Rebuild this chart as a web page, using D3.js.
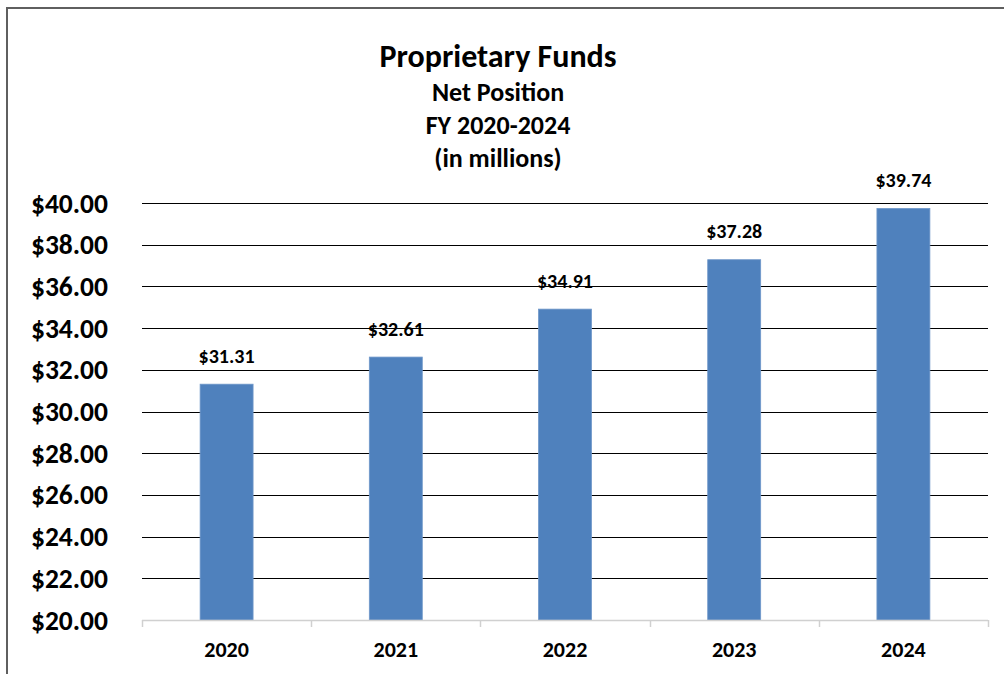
<!DOCTYPE html>
<html>
<head>
<meta charset="utf-8">
<script src="https://cdn.jsdelivr.net/npm/d3@7"></script>
<style>
  html, body { margin: 0; padding: 0; background: #fff; }
  svg { display: block; }
  text { font-family: Carlito, Lato, "Open Sans", sans-serif; font-weight: bold; fill: #000; }
</style>
</head>
<body>
<script>
const categories = ["2020", "2021", "2022", "2023", "2024"];
const values = [31.31, 32.61, 34.91, 37.28, 39.74];
const yTicks = [20, 22, 24, 26, 28, 30, 32, 34, 36, 38, 40];
const titleLines = ["Proprietary Funds", "Net Position", "FY 2020-2024", "(in millions)"];

const W = 1004, H = 674;
const plot = { left: 142, right: 988, top: 203, bottom: 620 };

const svg = d3.select("body").append("svg").attr("width", W).attr("height", H);

// outer frame
svg.append("rect").attr("x", 7).attr("y", 8).attr("width", W + 20).attr("height", H + 20)
  .attr("fill", "none").attr("stroke", "#5f5f5f").attr("stroke-width", 2);

const x = d3.scaleBand().domain(categories).range([plot.left, plot.right]).padding(0);
const y = d3.scaleLinear().domain([20, 40]).range([plot.bottom, plot.top]);

// gridlines
svg.append("g").selectAll("line").data(yTicks.filter(t => t > 20)).join("line")
  .attr("x1", plot.left).attr("x2", plot.right)
  .attr("y1", d => Math.round(y(d)) + 0.5).attr("y2", d => Math.round(y(d)) + 0.5)
  .attr("stroke", "#000").attr("stroke-width", 1);

// y axis labels
const yAxis = d3.axisLeft(y).tickValues(yTicks).tickSize(0).tickPadding(0)
  .tickFormat(d => "$" + d3.format(".2f")(d));
const gy = svg.append("g").attr("transform", `translate(${108},0)`).call(yAxis);
gy.select(".domain").remove();
gy.selectAll("text").style("font-size", "27.5px").attr("dy", "0.33em").attr("fill", "#000");

// bars
const barW = x.step() * 0.313;
svg.append("g").selectAll("rect").data(values).join("rect")
  .attr("x", (d, i) => x(categories[i]) + x.bandwidth() / 2 - barW / 2)
  .attr("width", barW)
  .attr("y", d => y(d))
  .attr("height", d => y(20) - y(d))
  .attr("fill", "#4F81BD")
  .attr("stroke", "#6f97c9").attr("stroke-width", 0.8);

// x axis
const xAxis = d3.axisBottom(x).tickSize(0).tickPadding(0);
const gx = svg.append("g").attr("transform", `translate(0,${plot.bottom})`).call(xAxis);
gx.select(".domain").remove();
gx.append("line").attr("x1", plot.left).attr("x2", plot.right).attr("y1", 0.5).attr("y2", 0.5)
  .attr("stroke", "#d0d0d0").attr("stroke-width", 1.5);
const boundaries = categories.map(c => x(c)).concat([plot.right]);
gx.selectAll("line.tk").data(boundaries).join("line").attr("class", "tk")
  .attr("x1", d => Math.round(d) + 0.5).attr("x2", d => Math.round(d) + 0.5)
  .attr("y1", 0).attr("y2", 7).attr("stroke", "#d0d0d0").attr("stroke-width", 1.5);
gx.selectAll(".tick text").style("font-size", "22px").attr("y", 30).attr("dy", "0.33em").attr("fill", "#000");

// value labels
svg.append("g").selectAll("text").data(values).join("text")
  .attr("x", (d, i) => x(categories[i]) + x.bandwidth() / 2)
  .attr("y", d => y(d) - 28)
  .attr("dy", "0.33em")
  .attr("text-anchor", "middle")
  .style("font-size", "20px")
  .text(d => "$" + d3.format(".2f")(d));

// title
const titleSizes = [32, 26, 26, 26];
const titleYs = [56, 92, 125, 158];
svg.append("g").selectAll("text").data(titleLines).join("text")
  .attr("x", 498).attr("y", (d, i) => titleYs[i]).attr("dy", "0.33em")
  .attr("text-anchor", "middle")
  .style("font-size", (d, i) => titleSizes[i] + "px")
  .text(d => d);
</script>
</body>
</html>
